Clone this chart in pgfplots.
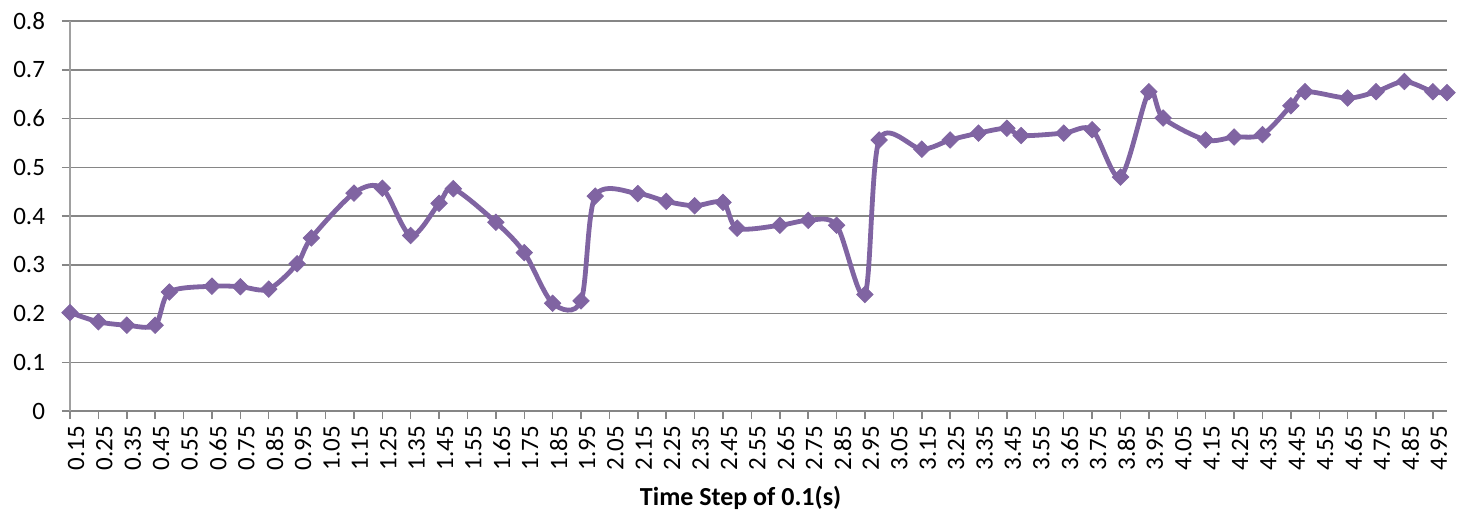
\documentclass[border=0pt]{standalone}
\usepackage{pgfplots}
\pgfplotsset{compat=1.18}
\usepackage{fontspec}
\setmainfont{Carlito}
\definecolor{linepurple}{RGB}{128,100,162}
\definecolor{gridgray}{RGB}{134,134,134}
\definecolor{axisgray}{RGB}{160,160,160}
\begin{document}
\begin{tikzpicture}
\begin{axis}[
  scale only axis,
  width=688.5pt, height=195pt,
  xmin=0.15, xmax=5.0,
  ymin=0, ymax=0.8,
  axis lines*=left,
  axis line style={axisgray, line width=0.75pt},
  x axis line style={gridgray},
  xtick={0.15,0.25,0.35,0.45,0.55,0.65,0.75,0.85,0.95,1.05,1.15,1.25,1.35,1.45,1.55,1.65,1.75,1.85,1.95,2.05,2.15,2.25,2.35,2.45,2.55,2.65,2.75,2.85,2.95,3.05,3.15,3.25,3.35,3.45,3.55,3.65,3.75,3.85,3.95,4.05,4.15,4.25,4.35,4.45,4.55,4.65,4.75,4.85,4.95},
  ytick={0,0.1,0.2,0.3,0.4,0.5,0.6,0.7,0.8},
  tick align=outside,
  major tick length=4pt,
  tick style={gridgray, line width=0.75pt},
  ymajorgrids,
  grid style={gridgray, line width=0.75pt},
  /pgf/number format/assume math mode=true,
  xticklabel style={rotate=90, anchor=east, yshift=-3pt, font=\fontsize{12.5}{14}\selectfont,
    /pgf/number format/.cd, fixed, fixed zerofill, precision=2},
  yticklabel style={font=\fontsize{12.5}{14}\selectfont, xshift=-5pt,
    /pgf/number format/.cd, fixed, precision=1},
  xlabel={\textbf{Time Step of 0.1(s)}},
  xlabel style={font=\fontsize{13}{15}\selectfont, at={(rel axis cs:0.487,0)}, anchor=base, yshift=-47pt},
  clip=false,
]
\addplot[color=linepurple, line width=2.4pt, smooth, tension=0.5,
  mark=square*, mark size=2.9pt, mark options={solid, rotate=45, fill=linepurple, line width=0.4pt}]
table {
x y
0.15 0.202
0.25 0.183
0.35 0.176
0.45 0.176
0.50 0.244
0.65 0.256
0.75 0.255
0.85 0.250
0.95 0.302
1.00 0.355
1.15 0.447
1.25 0.457
1.35 0.360
1.45 0.426
1.50 0.456
1.65 0.387
1.75 0.325
1.85 0.221
1.95 0.226
2.00 0.441
2.15 0.446
2.25 0.430
2.35 0.421
2.45 0.428
2.50 0.375
2.65 0.381
2.75 0.391
2.85 0.381
2.95 0.239
3.00 0.556
3.15 0.537
3.25 0.556
3.35 0.570
3.45 0.580
3.50 0.565
3.65 0.570
3.75 0.577
3.85 0.480
3.95 0.655
4.00 0.601
4.15 0.556
4.25 0.562
4.35 0.567
4.45 0.626
4.50 0.655
4.65 0.642
4.75 0.655
4.85 0.676
4.95 0.655
5.00 0.653
};
\end{axis}
\pgfresetboundingbox
\path (current axis.south west) ++(-35pt,-52.5pt) rectangle ++(733pt,258pt);
\end{tikzpicture}
\end{document}
